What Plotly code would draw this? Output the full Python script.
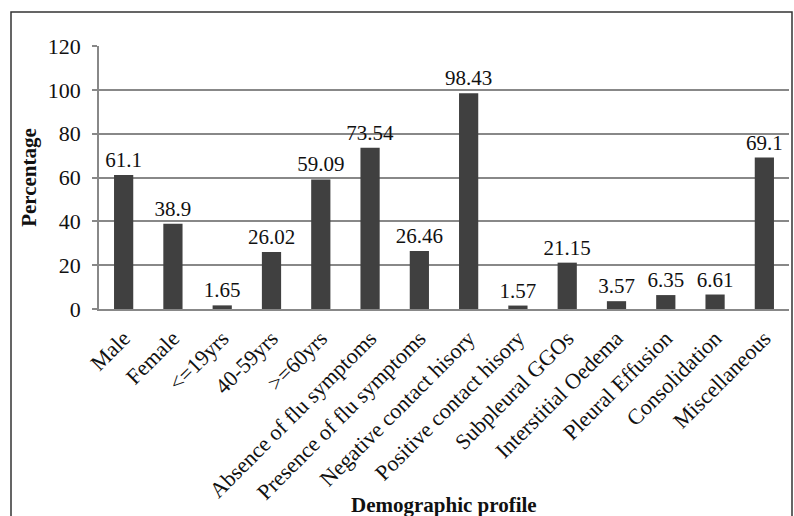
import plotly.graph_objects as go

categories = [
    "Male", "Female", "<=19yrs", "40-59yrs", ">=60yrs",
    "Absence of flu symptoms", "Presence of flu symptoms",
    "Negative contact hisory", "Positive contact hisory",
    "Subpleural GGOs", "Interstitial Oedema", "Pleural Effusion",
    "Consolidation", "Miscellaneous",
]
percentages = [61.1, 38.9, 1.65, 26.02, 59.09, 73.54, 26.46, 98.43,
               1.57, 21.15, 3.57, 6.35, 6.61, 69.1]
value_labels = ["61.1", "38.9", "1.65", "26.02", "59.09", "73.54", "26.46",
                "98.43", "1.57", "21.15", "3.57", "6.35", "6.61", "69.1"]
y_ticks = [0, 20, 40, 60, 80, 100, 120]

FONT = "Liberation Serif"
W, H = 794, 516
ML, MR, MT, MB = 99, 5, 46, 207
PW, PH = W - ML - MR, H - MT - MB

fig = go.Figure(go.Bar(
    x=categories,
    y=percentages,
    text=value_labels,
    textposition="outside",
    constraintext="none",
    textfont=dict(family=FONT, size=21, color="#111111"),
    cliponaxis=False,
    marker=dict(color="#404040", line=dict(width=0)),
))

fig.update_layout(
    width=W, height=H,
    margin=dict(l=ML, r=MR, t=MT, b=MB),
    paper_bgcolor="white",
    plot_bgcolor="white",
    bargap=0.61,
    showlegend=False,
    font=dict(family=FONT, color="#111111"),
    xaxis=dict(
        tickangle=-45,
        tickfont=dict(family=FONT, size=22, color="#111111"),
        ticklabelstandoff=6,
        showline=True, linecolor="#888888", linewidth=1.5,
        ticks="", showgrid=False,
    ),
    yaxis=dict(
        range=[0, 120],
        tickvals=y_ticks,
        tickfont=dict(family=FONT, size=22, color="#111111"),
        ticklabelstandoff=7,
        showline=True, linecolor="#888888", linewidth=1.5,
        ticks="outside", ticklen=5, tickcolor="#888888", tickwidth=1.5,
        showgrid=True, gridcolor="#888888", gridwidth=1.5,
        zeroline=False,
        title=dict(text="<b>Percentage</b>",
                   font=dict(family=FONT, size=21, color="#111111"),
                   standoff=5),
    ),
    shapes=[dict(
        type="rect", xref="paper", yref="paper",
        x0=(11 - ML) / PW, x1=(792 - ML) / PW,
        y0=-1.0, y1=(H - MB - 12) / PH,
        line=dict(color="#333333", width=1.5),
        fillcolor="rgba(0,0,0,0)", layer="below",
    )],
    annotations=[dict(
        text="<b>Demographic profile</b>",
        xref="paper", yref="paper",
        x=0.5, y=-(505 - (H - MB)) / PH,
        xanchor="center", yanchor="middle",
        showarrow=False,
        font=dict(family=FONT, size=21, color="#111111"),
    )],
)

fig.write_html("out.html")
